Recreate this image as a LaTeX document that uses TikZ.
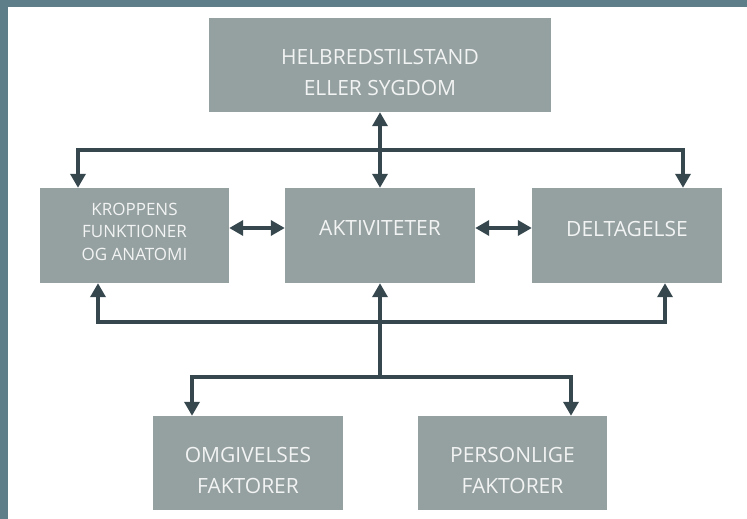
\documentclass[tikz,border=0pt]{standalone}
\usepackage{fontspec}
\setmainfont{Open Sans}
\usetikzlibrary{arrows.meta}
\definecolor{frame}{HTML}{5E7F8A}
\definecolor{boxfill}{HTML}{95A0A0}
\definecolor{link}{HTML}{36474E}
\definecolor{boxtext}{HTML}{F2F3F3}
\begin{document}
\begin{tikzpicture}[x=1pt,y=-1pt,
  box/.style={fill=boxfill, draw=none, inner sep=0pt, anchor=center},
  txt/.style={text=boxtext, align=center, font=\fontsize{21}{31}\selectfont},
  smalltxt/.style={text=boxtext, align=center, font=\fontsize{17}{22.5}\selectfont},
  link/.style={draw=link, line width=3.4pt, line join=miter},
  tip/.style={-{Triangle[width=15pt,length=14pt]}},
  tips/.style={{Triangle[width=15pt,length=14pt]}-{Triangle[width=15pt,length=14pt]}}]
  % page and frame strips
  \useasboundingbox (0,0) rectangle (747,519);
  \fill[white] (0,0) rectangle (747,519);
  \fill[frame] (0,0) rectangle (747,7);
  \fill[frame] (0,0) rectangle (8,519);

  % boxes
  \node[box, minimum width=342pt, minimum height=94pt,
        label={[txt, yshift=-7pt]center:HELBREDSTILSTAND\\ELLER SYGDOM}] (top) at (380,65) {};
  \node[box, minimum width=189pt, minimum height=95pt,
        label={[smalltxt, yshift=4pt]center:KROPPENS\\FUNKTIONER\\OG ANATOMI}] (kropp) at (134.5,235.5) {};
  \node[box, minimum width=190pt, minimum height=95pt,
        label={[txt, yshift=7.5pt]center:AKTIVITETER}] (akt) at (380,235.5) {};
  \node[box, minimum width=190pt, minimum height=95pt,
        label={[txt, yshift=7pt]center:DELTAGELSE}] (delt) at (627,235.5) {};
  \node[box, minimum width=190pt, minimum height=94pt,
        label={[txt, yshift=-7pt]center:OMGIVELSES\\FAKTORER}] (omg) at (248,463) {};
  \node[box, minimum width=189pt, minimum height=94pt,
        label={[txt, yshift=-7pt]center:PERSONLIGE\\FAKTORER}] (pers) at (512.5,463) {};

  % junction points of the connector bus lines
  \coordinate (upL) at (78,150);
  \coordinate (upR) at (683,150);
  \coordinate (loL) at (98,322);
  \coordinate (loR) at (665,322);
  \coordinate (botM) at (380,377);
  \coordinate (botL) at (192,377);
  \coordinate (botR) at (571,377);
  \coordinate (mid) at (0,228);

  % health condition <-> activities
  \draw[link, tips] (top.south) -- (akt.north);
  % upper bus to body functions and participation
  \draw[link, tips] (kropp.north -| upL) -- (upL) -- (upR) -- (delt.north -| upR);
  % lower bus from body functions to participation
  \draw[link, tips] (kropp.south -| loL) -- (loL) -- (loR) -- (delt.south -| loR);
  % contextual factors up to activities
  \draw[link, tip] (botM) -- (akt.south);
  \draw[link, tips] (omg.north -| botL) -- (botL) -- (botR) -- (pers.north -| botR);
  % side links of the middle row
  \draw[link, tips] (kropp.east |- mid) -- (akt.west |- mid);
  \draw[link, tips] (akt.east |- mid) -- (delt.west |- mid);
\end{tikzpicture}
\end{document}
